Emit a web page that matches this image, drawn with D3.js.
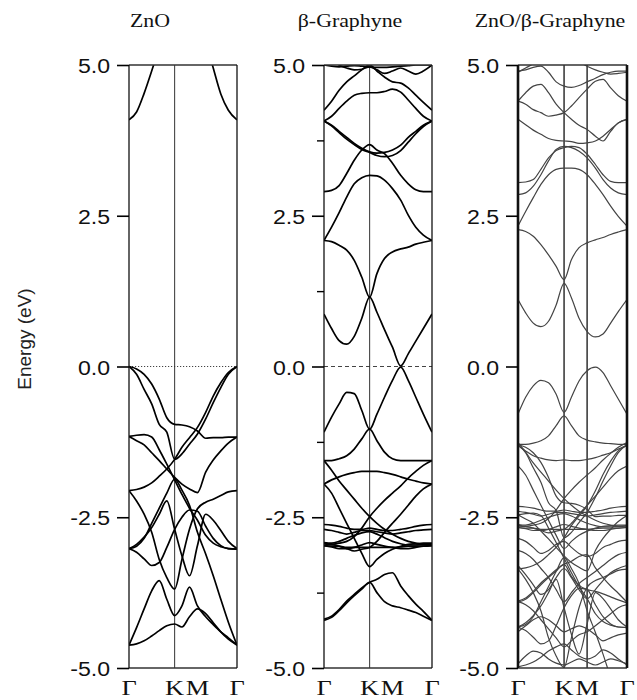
<!DOCTYPE html>
<html><head><meta charset="utf-8">
<script src="https://cdn.jsdelivr.net/npm/d3@7"></script>
<style>body{margin:0;background:#fff}</style>
</head><body><svg id="c" width="637" height="700"></svg>
<script>
// k-path positions (fraction of path length Γ-K-M-Γ)
const kPath = [0,0.07,0.14,0.21,0.28,0.35,0.4226,0.49,0.56,0.634,0.71,0.78,0.85,0.92,1.0];
const kLabels = ["Γ","K","M","Γ"];
const kLabelPos = [0,0.4226,0.634,1];
const yTicks = [5.0,2.5,0.0,-2.5,-5.0];
const yMinor = [3.75,1.25,-1.25,-3.75];
const titles = ["ZnO","β-Graphyne","ZnO/β-Graphyne"];

// ---- ZnO bands (eV) ----
const zno_c1 = [4.09,4.22,4.53,4.9,5.3,5.7,6.0,6.0,6.0,6.0,5.4,4.95,4.52,4.25,4.09];
const zno_v1 = [0,-0.04,-0.13,-0.29,-0.54,-0.85,-0.96,-0.97,-1.0,-1.07,-1.19,-1.18,-1.18,-1.17,-1.17];
const zno_v2 = [0,-0.13,-0.38,-0.62,-0.96,-1.09,-1.54,-1.45,-1.29,-1.12,-0.87,-0.6,-0.35,-0.13,0];
const zno_v3 = [-2.06,-2.04,-2.0,-1.93,-1.82,-1.7,-1.54,-1.34,-1.18,-1.01,-0.76,-0.49,-0.27,-0.1,0];
const zno_v4 = [-1.16,-1.23,-1.3,-1.43,-1.56,-1.7,-1.84,-1.95,-2.03,-2.09,-1.75,-1.55,-1.4,-1.27,-1.17];
const zno_v5 = [-1.16,-1.14,-1.13,-1.17,-1.38,-1.62,-1.88,-2.12,-2.35,-2.55,-2.8,-2.93,-2.99,-3.02,-3.03];
const zno_v6 = [-2.06,-2.23,-2.45,-2.75,-3.2,-3.5,-3.69,-3.2,-2.7,-2.36,-2.25,-2.2,-2.14,-2.08,-2.06];
const zno_v7 = [-3.02,-2.95,-2.83,-2.67,-2.45,-2.23,-2.7,-3.14,-3.47,-2.97,-2.45,-2.55,-2.72,-2.9,-3.02];
const zno_v8 = [-3.02,-3.08,-3.19,-3.3,-3.25,-3.0,-2.7,-2.5,-2.38,-2.4,-2.65,-2.85,-2.97,-3.02,-3.03];
const zno_v9 = [-4.62,-4.6,-4.55,-4.47,-4.38,-4.3,-4.27,-4.32,-4.15,-4.02,-4.1,-4.25,-4.4,-4.52,-4.62];
const zno_v10 = [-4.62,-4.33,-4.02,-3.72,-3.55,-3.86,-4.13,-3.97,-3.66,-3.97,-4.15,-4.28,-4.4,-4.5,-4.62];
const zno_v11 = [-3.02,-2.98,-2.85,-2.6,-2.35,-2.1,-1.87,-2.05,-2.3,-2.75,-3.11,-3.47,-3.86,-4.24,-4.62];

// ---- β-Graphyne bands (eV) ----
const gr_c1 = [0.87,0.63,0.43,0.37,0.5,0.8,1.15,0.9,0.61,0.32,0.01,0.21,0.42,0.63,0.87];
const gr_c2 = [2.09,2.07,2.01,1.93,1.76,1.48,1.15,1.54,1.79,1.9,1.95,1.98,2.03,2.06,2.09];
const gr_c3 = [2.09,2.31,2.55,2.81,3.03,3.13,3.17,3.16,3.09,2.95,2.76,2.51,2.31,2.18,2.09];
const gr_c4 = [2.9,2.92,3.0,3.2,3.42,3.59,3.68,3.59,3.53,3.37,3.17,3.03,2.93,2.9,2.9];
const gr_c5 = [4.07,4.0,3.9,3.8,3.7,3.62,3.56,3.54,3.55,3.59,3.67,3.8,3.9,4.0,4.07];
const gr_c6 = [4.07,3.99,3.88,3.77,3.68,3.6,3.55,3.5,3.48,3.5,3.58,3.72,3.86,3.98,4.07];
const gr_c7 = [4.07,4.15,4.28,4.4,4.5,4.53,4.54,4.54,4.56,4.6,4.55,4.42,4.28,4.15,4.07];
const gr_c8 = [4.25,4.4,4.58,4.72,4.82,4.92,5.0,4.9,4.8,4.72,4.7,4.62,4.5,4.38,4.25];
const gr_c9 = [5.2,5.1,5.0,4.95,4.92,4.93,4.97,4.92,4.86,4.9,4.95,4.9,4.85,4.9,5.0];
const gr_c10 = [5.0,4.98,4.97,4.98,4.99,4.98,4.97,4.96,4.96,4.97,4.98,4.99,5.0,5.0,5.0];
const gr_v1 = [-1.09,-0.84,-0.62,-0.43,-0.45,-0.73,-1.04,-0.79,-0.51,-0.23,-0.01,-0.23,-0.51,-0.79,-1.09];
const gr_v2 = [-1.56,-1.56,-1.53,-1.48,-1.37,-1.2,-1.04,-1.23,-1.42,-1.53,-1.56,-1.56,-1.56,-1.56,-1.56];
const gr_v3 = [-1.95,-1.88,-1.83,-1.79,-1.76,-1.74,-1.74,-1.74,-1.76,-1.79,-1.83,-1.87,-1.9,-1.93,-1.95];
const gr_v4 = [-1.56,-1.72,-1.9,-2.05,-2.2,-2.35,-2.49,-2.6,-2.7,-2.78,-2.85,-2.9,-2.93,-2.95,-2.96];
const gr_v5 = [-2.96,-2.95,-2.93,-2.9,-2.82,-2.68,-2.49,-2.35,-2.22,-2.1,-1.98,-1.85,-1.74,-1.64,-1.56];
const gr_v6 = [-1.95,-2.1,-2.35,-2.6,-2.85,-3.1,-3.32,-3.2,-3.1,-3.03,-2.98,-2.95,-2.94,-2.93,-2.93];
const gr_v7 = [-2.93,-2.95,-2.98,-3.02,-3.06,-3.03,-3.0,-2.9,-2.75,-2.6,-2.45,-2.3,-2.15,-2.03,-1.95];
const gr_v8 = [-2.62,-2.63,-2.65,-2.68,-2.7,-2.7,-2.68,-2.7,-2.72,-2.72,-2.7,-2.68,-2.65,-2.63,-2.62];
const gr_v9 = [-2.7,-2.72,-2.75,-2.78,-2.75,-2.72,-2.72,-2.74,-2.76,-2.78,-2.76,-2.74,-2.72,-2.71,-2.7];
const gr_v10 = [-2.92,-2.93,-2.9,-2.85,-2.8,-2.76,-2.74,-2.78,-2.84,-2.9,-2.94,-2.96,-2.96,-2.95,-2.94];
const gr_v11 = [-2.97,-2.98,-2.98,-3.0,-3.0,-3.0,-3.0,-3.0,-3.0,-3.0,-2.99,-2.98,-2.98,-2.98,-2.97];
const gr_v12 = [-2.97,-2.99,-3.02,-3.02,-3.0,-2.96,-2.92,-2.95,-2.98,-3.0,-3.02,-3.02,-3.0,-2.98,-2.97];
const gr_v13 = [-4.19,-4.14,-4.03,-3.89,-3.78,-3.67,-3.58,-3.53,-3.45,-3.42,-3.64,-3.8,-3.94,-4.06,-4.21];
const gr_v14 = [-4.21,-4.16,-4.05,-3.92,-3.8,-3.69,-3.58,-3.75,-3.9,-3.97,-4.0,-4.04,-4.08,-4.14,-4.21];

// ---- ZnO/β-Graphyne bands (eV) ----
const h_c1 = [1.11,0.89,0.72,0.66,0.75,1.02,1.38,1.14,0.8,0.58,0.49,0.54,0.72,0.91,1.11];
const h_c2 = [2.27,2.24,2.16,2.02,1.85,1.66,1.44,1.77,1.97,2.05,2.1,2.14,2.19,2.23,2.27];
const h_c3 = [2.33,2.57,2.8,3.02,3.18,3.27,3.29,3.29,3.27,3.18,3.02,2.85,2.66,2.49,2.33];
const h_c4 = [2.85,2.88,2.99,3.18,3.41,3.6,3.65,3.63,3.57,3.46,3.29,3.1,2.96,2.88,2.85];
const h_c5 = [3.05,3.06,3.1,3.27,3.46,3.58,3.63,3.65,3.63,3.52,3.35,3.18,3.07,3.05,3.05];
const h_c6 = [4.1,4.01,3.92,3.85,3.78,3.75,3.74,3.73,3.7,3.71,3.74,3.82,3.93,4.04,4.1];
const h_c7 = [4.4,4.54,4.65,4.68,4.54,4.35,4.21,4.1,4.0,3.93,3.82,3.74,3.9,4.04,4.1];
const h_c8 = [4.4,4.35,4.26,4.21,4.15,4.17,4.21,4.32,4.46,4.6,4.73,4.76,4.62,4.49,4.4];
const h_c9 = [4.9,4.92,4.96,4.98,4.88,4.72,4.65,4.63,4.66,4.72,4.78,4.84,4.88,4.9,4.9];
const h_c10 = [4.88,4.95,5.02,5.1,5.1,5.1,5.1,5.1,5.05,4.98,4.92,4.88,4.85,4.86,4.88];
const h_v1 = [-0.79,-0.51,-0.32,-0.23,-0.27,-0.46,-0.76,-0.51,-0.24,-0.07,-0.01,-0.1,-0.32,-0.54,-0.79];
const h_v2 = [-1.29,-1.29,-1.27,-1.23,-1.15,-0.98,-0.82,-0.98,-1.15,-1.22,-1.25,-1.27,-1.28,-1.29,-1.29];
const h_v3 = [-1.31,-1.4,-1.48,-1.52,-1.55,-1.56,-1.55,-1.56,-1.56,-1.54,-1.51,-1.47,-1.43,-1.37,-1.31];
const h_v4 = [-1.26,-1.42,-1.6,-1.75,-1.9,-2.05,-2.19,-2.3,-2.4,-2.48,-2.55,-2.6,-2.63,-2.65,-2.66];
const h_v5 = [-2.66,-2.65,-2.63,-2.6,-2.52,-2.38,-2.19,-2.05,-1.92,-1.8,-1.68,-1.55,-1.44,-1.34,-1.26];
const h_v6 = [-1.65,-1.8,-2.05,-2.3,-2.55,-2.8,-3.02,-2.9,-2.8,-2.73,-2.68,-2.65,-2.64,-2.63,-2.63];
const h_v7 = [-2.63,-2.65,-2.68,-2.72,-2.76,-2.73,-2.7,-2.6,-2.45,-2.3,-2.15,-2.0,-1.85,-1.73,-1.65];
const h_v8 = [-2.32,-2.33,-2.35,-2.38,-2.4,-2.4,-2.38,-2.4,-2.42,-2.42,-2.4,-2.38,-2.35,-2.33,-2.32];
const h_v9 = [-2.4,-2.42,-2.45,-2.48,-2.45,-2.42,-2.42,-2.44,-2.46,-2.48,-2.46,-2.44,-2.42,-2.41,-2.4];
const h_v10 = [-2.62,-2.63,-2.6,-2.55,-2.5,-2.46,-2.44,-2.48,-2.54,-2.6,-2.64,-2.66,-2.66,-2.65,-2.64];
const h_v11 = [-2.67,-2.68,-2.68,-2.7,-2.7,-2.7,-2.7,-2.7,-2.7,-2.7,-2.69,-2.68,-2.68,-2.68,-2.67];
const h_v12 = [-2.67,-2.69,-2.72,-2.72,-2.7,-2.66,-2.62,-2.65,-2.68,-2.7,-2.72,-2.72,-2.7,-2.68,-2.67];
const h_v13 = [-3.89,-3.84,-3.73,-3.59,-3.48,-3.37,-3.28,-3.23,-3.15,-3.12,-3.34,-3.5,-3.64,-3.76,-3.91];
const h_v14 = [-3.91,-3.86,-3.75,-3.62,-3.5,-3.39,-3.28,-3.48,-3.63,-3.7,-3.73,-3.77,-3.82,-3.87,-3.92];
const h_z1 = [-1.3,-1.34,-1.43,-1.59,-1.84,-2.15,-2.26,-2.27,-2.3,-2.37,-2.49,-2.48,-2.48,-2.47,-2.47];
const h_z2 = [-1.3,-1.43,-1.68,-1.92,-2.26,-2.39,-2.84,-2.75,-2.59,-2.42,-2.17,-1.9,-1.65,-1.43,-1.3];
const h_z3 = [-3.36,-3.34,-3.3,-3.23,-3.12,-3.0,-2.84,-2.64,-2.48,-2.31,-2.06,-1.79,-1.57,-1.4,-1.3];
const h_z4 = [-2.46,-2.53,-2.6,-2.73,-2.86,-3.0,-3.14,-3.25,-3.33,-3.39,-3.05,-2.85,-2.7,-2.57,-2.47];
const h_z5 = [-2.46,-2.44,-2.43,-2.47,-2.68,-2.92,-3.18,-3.42,-3.65,-3.85,-4.1,-4.23,-4.29,-4.32,-4.33];
const h_z6 = [-3.36,-3.53,-3.75,-4.05,-4.5,-4.8,-4.99,-4.5,-4.0,-3.66,-3.55,-3.5,-3.44,-3.38,-3.36];
const h_z7 = [-4.32,-4.25,-4.13,-3.97,-3.75,-3.53,-4.0,-4.44,-4.77,-4.27,-3.75,-3.85,-4.02,-4.2,-4.32];
const h_z8 = [-4.32,-4.38,-4.49,-4.6,-4.55,-4.3,-4.0,-3.8,-3.68,-3.7,-3.95,-4.15,-4.27,-4.32,-4.33];
const h_z9 = [-4.32,-4.28,-4.15,-3.9,-3.65,-3.4,-3.17,-3.35,-3.6,-4.05,-4.41,-4.77,-5.16,-5.54,-5.92];
const h_x1 = [-4.93,-4.8,-4.72,-4.75,-4.85,-4.92,-4.95,-4.9,-4.85,-4.9,-4.95,-4.9,-4.85,-4.88,-4.93];
const h_x2 = [-4.98,-4.95,-4.9,-4.82,-4.72,-4.65,-4.6,-4.7,-4.8,-4.85,-4.8,-4.7,-4.75,-4.85,-4.95];
const h_x3 = [-3.05,-3.1,-3.2,-3.35,-3.5,-3.7,-3.9,-3.75,-3.6,-3.5,-3.4,-3.3,-3.2,-3.12,-3.08];
const h_x4 = [-3.3,-3.45,-3.62,-3.78,-3.7,-3.5,-3.35,-3.5,-3.7,-3.85,-3.7,-3.55,-3.42,-3.35,-3.3];
const h_x5 = [-4.4,-4.3,-4.2,-4.15,-4.2,-4.3,-4.4,-4.35,-4.3,-4.35,-4.45,-4.55,-4.5,-4.45,-4.42];
const h_x6 = [-3.9,-3.95,-4.05,-4.2,-4.35,-4.5,-4.65,-4.55,-4.45,-4.4,-4.3,-4.2,-4.1,-4.0,-3.95];
const h_x7 = [-2.85,-2.9,-3.0,-3.1,-3.05,-2.95,-2.9,-3.0,-3.1,-3.15,-3.1,-3.0,-2.95,-2.9,-2.88];

const znoBands = [zno_c1,zno_v1,zno_v2,zno_v3,zno_v4,zno_v5,zno_v6,zno_v7,zno_v8,zno_v9,zno_v10,zno_v11];
const grBands = [gr_c1,gr_c2,gr_c3,gr_c4,gr_c5,gr_c6,gr_c7,gr_c8,gr_c9,gr_c10,gr_v1,gr_v2,gr_v3,gr_v4,gr_v5,gr_v6,gr_v7,gr_v8,gr_v9,gr_v10,gr_v11,gr_v12,gr_v13,gr_v14];
const hetBands = [h_c1,h_c2,h_c3,h_c4,h_c5,h_c6,h_c7,h_c8,h_c9,h_c10,h_v1,h_v2,h_v3,h_v4,h_v5,h_v6,h_v7,h_v8,h_v9,h_v10,h_v11,h_v12,h_v13,h_v14,h_z1,h_z2,h_z3,h_z4,h_z5,h_z6,h_z7,h_z8,h_z9,h_x1,h_x2,h_x3,h_x4,h_x5,h_x6,h_x7];

const svg = d3.select("#c");
const Y_TOP = 65, Y_BOT = 668;
const y = d3.scaleLinear().domain([-5,5]).range([Y_BOT,Y_TOP]);
const SANS = "Liberation Sans, Arial, Helvetica, sans-serif";
const SERIF = "Liberation Serif, Times New Roman, serif";

const panels = [
  {x0:129,x1:237,bands:znoBands,stroke:"#000",sw:1.7,zero:"1.2,1.8",minor:false,verts:[0.4226],tx:150,side:1.3,vcol:"#333",vw:1},
  {x0:324,x1:432,bands:grBands,stroke:"#000",sw:1.7,zero:"4,3",minor:true,verts:[0.4226],tx:350,side:1.3,vcol:"#333",vw:1},
  {x0:518,x1:627,bands:hetBands,stroke:"#444",sw:1.2,zero:null,minor:false,verts:[0.4226,0.634],tx:550,side:2.6,vcol:"#222",vw:1.4}
];
const defs = svg.append("defs");

panels.forEach((p,i)=>{
  const x = d3.scaleLinear().domain([0,1]).range([p.x0,p.x1]);
  defs.append("clipPath").attr("id","clip"+i).append("rect")
    .attr("x",p.x0).attr("y",Y_TOP).attr("width",p.x1-p.x0).attr("height",Y_BOT-Y_TOP);
  const g = svg.append("g");
  if (p.zero) {
    g.append("line").attr("x1",p.x0).attr("x2",p.x1).attr("y1",y(0)).attr("y2",y(0))
      .attr("stroke","#444").attr("stroke-width",1).attr("stroke-dasharray",p.zero);
  }
  g.selectAll("line.v").data(p.verts).join("line").attr("class","v")
    .attr("x1",d=>x(d)).attr("x2",d=>x(d)).attr("y1",Y_TOP).attr("y2",Y_BOT)
    .attr("stroke",p.vcol).attr("stroke-width",p.vw);
  const line = d3.line().x((d,j)=>x(kPath[j])).y(d=>y(d)).curve(d3.curveMonotoneX);
  g.append("g").attr("clip-path",`url(#clip${i})`)
    .selectAll("path").data(p.bands).join("path")
    .attr("d",line).attr("fill","none").attr("stroke",p.stroke)
    .attr("stroke-width",p.sw).attr("stroke-linejoin","round");
  g.append("line").attr("x1",p.x0).attr("x2",p.x1).attr("y1",Y_TOP).attr("y2",Y_TOP).attr("stroke","#333").attr("stroke-width",1.3);
  g.append("line").attr("x1",p.x0).attr("x2",p.x1).attr("y1",Y_BOT).attr("y2",Y_BOT).attr("stroke","#333").attr("stroke-width",1.3);
  g.append("line").attr("x1",p.x0).attr("x2",p.x0).attr("y1",Y_TOP).attr("y2",Y_BOT).attr("stroke","#111").attr("stroke-width",p.side);
  g.append("line").attr("x1",p.x1).attr("x2",p.x1).attr("y1",Y_TOP).attr("y2",Y_BOT).attr("stroke","#111").attr("stroke-width",p.side);
  const ax = d3.axisLeft(y).tickValues(yTicks).tickSize(12).tickFormat(d=>d.toFixed(1));
  const axg = svg.append("g").attr("transform",`translate(${p.x0},0)`).call(ax);
  axg.select(".domain").remove();
  axg.selectAll(".tick line").attr("stroke","#000").attr("stroke-width",1.6);
  axg.selectAll(".tick text").attr("x",0).attr("dy",null)
    .attr("transform","translate(-19,7.5) scale(1.1,1)")
    .attr("font-size",21).attr("font-family",SANS).attr("fill","#111");
  if (p.minor) {
    const axm = d3.axisLeft(y).tickValues(yMinor).tickSize(7).tickFormat("");
    const amg = svg.append("g").attr("transform",`translate(${p.x0},0)`).call(axm);
    amg.select(".domain").remove();
    amg.selectAll(".tick line").attr("stroke","#000").attr("stroke-width",1.4);
  }
  svg.append("g").selectAll("text").data(kLabels.map((t,j)=>({t,k:kLabelPos[j]}))).join("text")
    .attr("transform",d=>`translate(${x(d.k)},695) scale(1.2,1)`)
    .attr("text-anchor","middle").attr("font-family",SERIF).attr("font-size",22).attr("fill","#111")
    .text(d=>d.t);
  svg.append("text").attr("transform",`translate(${p.tx},27) scale(1.15,1)`)
    .attr("text-anchor","middle").attr("font-family",SERIF).attr("font-size",19).attr("fill","#111")
    .text(titles[i]);
});

svg.append("text").attr("transform","translate(31,339) rotate(-90)")
  .attr("text-anchor","middle").attr("font-family",SANS).attr("font-size",19).attr("fill","#222")
  .text("Energy (eV)");
</script>
</body></html>
